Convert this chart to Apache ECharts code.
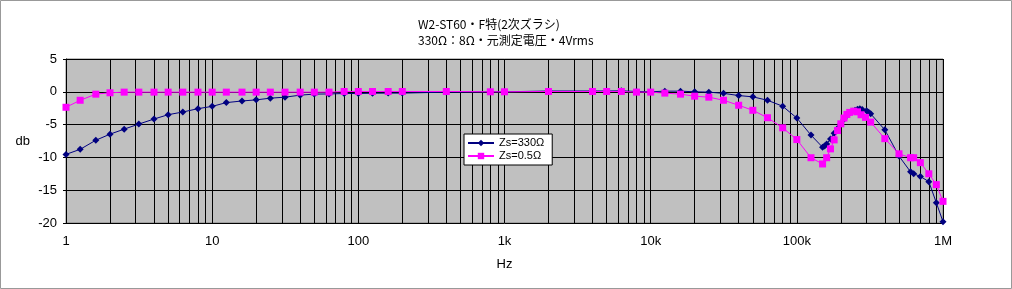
<!DOCTYPE html>
<html>
<head>
<meta charset="utf-8">
<script src="https://cdn.jsdelivr.net/npm/echarts@6/dist/echarts.min.js"></script>
<style>
html,body{margin:0;padding:0;background:#fff;}
#c{width:1012px;height:289px;}
</style>
</head>
<body>
<div id="c"></div>
<script>
const titleLines = ['W2-ST60・F特(2次ズラシ)', '330Ω：8Ω・元測定電圧・4Vrms'];
const seriesNames = ['Zs=330Ω', 'Zs=0.5Ω'];
const yTicks = [-20, -15, -10, -5, 0, 5];
const xTickLabels = {1: '1', 10: '10', 100: '100', 1000: '1k', 10000: '10k', 100000: '100k', 1000000: '1M'};

const freqA = [1, 1.25, 1.6, 2, 2.5, 3.15, 4, 5, 6.3, 8, 10, 12.5, 16, 20, 25, 31.5, 40, 50, 63, 80, 100, 125, 160, 200,
  400, 800, 1000, 2000, 4000, 5000, 6300, 8000, 10000, 12500, 16000, 20000, 25000, 31500, 40000, 50000, 63000, 80000,
  100000, 125000, 150000, 155000, 160000, 170000, 180000, 190000, 200000, 210000, 220000, 230000, 240000, 250000,
  260000, 270000, 280000, 300000, 310000, 320000, 400000, 500000, 600000, 630000, 700000, 800000, 900000, 1000000];
const dbA = [-9.54, -8.77, -7.38, -6.46, -5.69, -4.92, -4.15, -3.49, -3.08, -2.57, -2.22, -1.65, -1.4, -1.23, -0.97, -0.82, -0.51, -0.35, -0.33, -0.26, -0.26, -0.22, -0.2, -0.2,
  -0.05, 0, 0, 0.12, 0.12, 0.12, 0.15, 0.05, 0.0, 0.1, 0.1, 0.0, -0.05, -0.24, -0.57, -0.77, -1.29, -2.2,
  -4.0, -6.6, -8.45, -8.25, -7.95, -7.2, -6.3, -5.6, -4.9, -4.2, -3.6, -3.2, -2.95, -2.8,
  -2.65, -2.6, -2.7, -2.9, -3.1, -3.35, -5.8, -9.8, -12.2, -12.5, -12.9, -13.7, -16.9, -19.8];

const freqB = [1, 1.25, 1.6, 2, 2.5, 3.15, 4, 5, 6.3, 8, 10, 12.5, 16, 20, 25, 31.5, 40, 50, 63, 80, 100, 125, 160, 200,
  400, 800, 1000, 2000, 4000, 5000, 6300, 8000, 10000, 12500, 16000, 20000, 25000, 31500, 40000, 50000, 63000, 80000,
  100000, 125000, 150000, 160000, 170000, 180000, 190000, 200000, 210000, 220000, 230000, 245000, 260000, 275000,
  295000, 320000, 400000, 500000, 600000, 630000, 700000, 800000, 900000, 1000000];
const dbB = [-2.36, -1.29, -0.36, -0.15, -0.05, -0.05, -0.05, -0.05, -0.05, -0.05, -0.05, -0.05, -0.05, -0.05, -0.05, -0.05, -0.05, -0.05, -0.05, 0.05, 0.05, 0.05, 0.05, 0.05,
  0.05, 0, 0, 0.05, 0.05, 0.05, 0.05, -0.05, -0.05, -0.2, -0.36, -0.67, -0.82, -1.29, -2.05, -2.82, -3.95, -5.49,
  -7.28, -10.05, -11.0, -10.05, -8.7, -7.33, -5.9, -4.88, -4.0, -3.45, -3.14, -2.95, -3.05, -3.5,
  -3.9, -4.62, -7.14, -9.45, -10.05, -10.05, -10.8, -12.5, -14.15, -16.7];

const minorLines = [];
for (let d = 1; d <= 100000; d *= 10) {
  for (let m = 1; m <= 9; m++) {
    const v = d * m;
    if (v > 1 && v < 1000000) minorLines.push({xAxis: v});
  }
}

const font = 'Liberation Sans, Arial, sans-serif';
const chart = echarts.init(document.getElementById('c'), null, {renderer: 'canvas'});
chart.setOption({
  animation: false,
  backgroundColor: '#fff',
  title: {
    text: titleLines.join('\n'),
    left: 418, top: 16,
    textStyle: {fontSize: 12, fontWeight: 'normal', color: '#000', fontFamily: 'Noto Sans CJK JP', lineHeight: 16},
    padding: 0
  },
  legend: {
    data: seriesNames,
    orient: 'vertical',
    left: 464, top: 134,
    padding: [3, 8, 3, 3],
    itemGap: 1,
    itemWidth: 26, itemHeight: 8,
    backgroundColor: '#fff',
    borderColor: '#000', borderWidth: 1, borderRadius: 0,
    textStyle: {fontSize: 11, color: '#000', fontFamily: font, lineHeight: 12}
  },
  grid: {
    left: 66, right: 69, top: 59, bottom: 66,
    show: true, backgroundColor: '#C0C0C0', borderColor: '#808080', borderWidth: 1,
    containLabel: false
  },
  xAxis: {
    type: 'log', logBase: 10, min: 1, max: 1000000, splitNumber: 6,
    name: 'Hz', nameLocation: 'middle', nameGap: 35,
    nameTextStyle: {fontSize: 13, color: '#000', fontFamily: font},
    axisLine: {show: true, lineStyle: {color: '#000', width: 1}},
    axisTick: {show: false},
    axisLabel: {fontSize: 13, color: '#000', fontFamily: font, margin: 12,
      formatter: v => xTickLabels[Math.round(v)] || ''},
    splitLine: {show: true, lineStyle: {color: '#000', width: 1}},
    minorTick: {show: false}
  },
  yAxis: {
    type: 'value', min: -20, max: 5, interval: 5,
    name: 'db', nameLocation: 'middle', nameRotate: 0, nameGap: 36,
    nameTextStyle: {fontSize: 13, color: '#000', fontFamily: font},
    axisLine: {show: true, lineStyle: {color: '#000', width: 1}},
    axisTick: {show: true, length: 3, lineStyle: {color: '#000'}},
    axisLabel: {fontSize: 13, color: '#000', fontFamily: font, margin: 9,
      formatter: v => yTicks.includes(v) ? String(v) : ''},
    splitLine: {show: true, lineStyle: {color: '#000', width: 1}}
  },
  series: [
    {
      name: seriesNames[0], type: 'line', z: 3,
      data: freqA.map((f, i) => [f, dbA[i]]),
      symbol: 'diamond', symbolSize: 7, showAllSymbol: true,
      lineStyle: {color: '#000080', width: 1},
      itemStyle: {color: '#000080'},
      markLine: {
        silent: true, symbol: 'none', z: 1, label: {show: false},
        lineStyle: {color: '#000', width: 1, type: 'solid'},
        data: minorLines, animation: false
      }
    },
    {
      name: seriesNames[1], type: 'line', z: 4,
      data: freqB.map((f, i) => [f, dbB[i]]),
      symbol: 'rect', symbolSize: 7, showAllSymbol: true,
      lineStyle: {color: '#FF00FF', width: 1},
      itemStyle: {color: '#FF00FF'}
    }
  ],
  graphic: [{
    type: 'rect', silent: true, z: -1,
    shape: {x: 0.5, y: 0.5, width: 1011, height: 288},
    style: {fill: 'none', stroke: '#999', lineWidth: 1}
  }]
});
</script>
</body>
</html>
